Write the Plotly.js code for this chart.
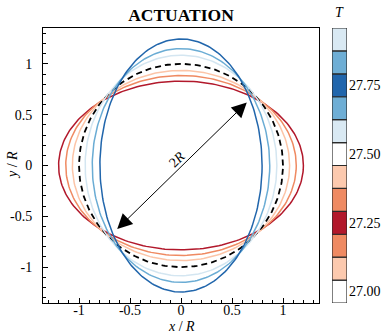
<!DOCTYPE html>
<html>
<head>
<meta charset="utf-8">
<script src="https://cdn.plot.ly/plotly-3.0.1.min.js"></script>
<style>html,body{margin:0;padding:0;background:#fff;}#chart{width:384px;height:333px;}</style>
</head>
<body>
<div id="chart"></div>
<script>
// Shapes at selected times T (semi-axes, in units of R)
const shapeT      = [27.25, 27.167, 27.083, 27.0, 27.583, 27.667, 27.75];
const semiAxisX   = [1.20, 1.13, 1.065, 1.00, 0.94, 0.87, 0.795];
const semiAxisY   = [0.83, 0.885, 0.935, 1.00, 1.085, 1.15, 1.245];
const shapeColors = ['#b2182b', '#ef8a62', '#fcc5a8', '#000000', '#d4e6f1', '#6aacd4', '#2166ac'];
const shapeDash   = ['solid', 'solid', 'solid', 'dash', 'solid', 'solid', 'solid'];

// Discrete colorbar bands (T values at band centres, bottom to top)
const bandT      = [27.0, 27.0833, 27.1667, 27.25, 27.3333, 27.4167, 27.5, 27.5833, 27.6667, 27.75, 27.8333, 27.9167];
const bandColors = ['#ffffff', '#fcc9ae', '#ef8a62', '#b2182b', '#ef8a62', '#fcc9ae', '#ffffff', '#d9e9f3', '#6eaed5', '#2166ac', '#6eaed5', '#d9e9f3'];
const bandTickVals = [27.0, 27.25, 27.5, 27.75];
const bandTickText = ['27.00', '27.25', '27.50', '27.75'];

// Axis tick labels
const axisTickVals = [-1, -0.5, 0, 0.5, 1];
const axisTickText = ['-1', '-0.5', '0', '0.5', '1'];

// Diameter arrow end points
const arrowStart = [-0.64, -0.64];
const arrowEnd   = [0.645, 0.62];

const FONT = 'Liberation Serif, Times New Roman, serif';

const traces = [];
const nPts = 241;
for (let k = 0; k < shapeT.length; k++) {
  const xs = [], ys = [];
  for (let i = 0; i < nPts; i++) {
    const th = 2 * Math.PI * i / (nPts - 1);
    xs.push(semiAxisX[k] * Math.cos(th));
    ys.push(semiAxisY[k] * Math.sin(th));
  }
  traces.push({
    type: 'scatter', mode: 'lines', x: xs, y: ys,
    line: {color: shapeColors[k], width: shapeDash[k] === 'dash' ? 1.8 : 1.5, dash: shapeDash[k] === 'dash' ? '6px,4px' : 'solid'},
    hoverinfo: 'skip', showlegend: false, xaxis: 'x', yaxis: 'y'
  });
}
const bandStep = bandT[1] - bandT[0];
traces.push({
  type: 'bar', x: bandT.map(() => 0), y: bandT.map(() => bandStep),
  base: bandT.map(t => t - bandStep / 2), width: 1,
  marker: {color: bandColors, line: {color: '#2a2a2a', width: 1.2}},
  hoverinfo: 'skip', showlegend: false, xaxis: 'x2', yaxis: 'y2'
});

const W = 384, H = 333;
const mL = 43, mR = 37, mT = 28, mB = 30;
const pw = W - mL - mR, ph = H - mT - mB;
const plotRight = 319, cbLeft = 332, cbRight = 347;
const px2x = p => (p - mL) / pw;          // pixel x -> paper x
const px2y = p => (H - mB - p) / ph;      // pixel y -> paper y

const axisCommon = {
  showline: true, linecolor: '#000', linewidth: 1, mirror: true,
  showgrid: false, zeroline: false,
  ticks: 'inside', ticklen: 5, tickwidth: 1, tickcolor: '#000',
  tickvals: axisTickVals, ticktext: axisTickText,
  minor: {dtick: 0.1, ticks: 'inside', ticklen: 3, tickwidth: 1, tickcolor: '#000'},
  tickfont: {family: FONT, size: 14, color: '#000'},
  range: [-1.353, 1.353]
};

const layout = {
  width: W, height: H,
  margin: {l: mL, r: mR, t: mT, b: mB, pad: 0},
  paper_bgcolor: '#fff', plot_bgcolor: '#fff',
  title: {text: '<b>ACTUATION</b>', font: {family: FONT, size: 17.5, color: '#000'},
          x: 181 / W, xanchor: 'center', xref: 'container', y: 1 - 15 / H, yanchor: 'middle', yref: 'container'},
  xaxis: Object.assign({}, axisCommon, {
    domain: [0, (plotRight - mL) / pw], anchor: 'y',
    ticklabelstandoff: -6
  }),
  yaxis: Object.assign({}, axisCommon, {
    domain: [0, 1], anchor: 'x',
    ticklabelstandoff: 7
  }),
  xaxis2: {
    domain: [px2x(cbLeft), px2x(cbRight)], anchor: 'y2',
    range: [-0.5, 0.5], showticklabels: false, showgrid: false, zeroline: false, showline: false, ticks: ''
  },
  yaxis2: {
    domain: [0, 1], anchor: 'x2', side: 'right',
    range: [bandT[0] - bandStep / 2, bandT[bandT.length - 1] + bandStep / 2],
    tickvals: bandTickVals, ticktext: bandTickText, ticks: '',
    showgrid: false, zeroline: false, showline: false,
    tickfont: {family: FONT, size: 14, color: '#000'}, ticklabelstandoff: 1
  },
  annotations: [
    {x: arrowEnd[0], y: arrowEnd[1], ax: arrowStart[0], ay: arrowStart[1],
     xref: 'x', yref: 'y', axref: 'x', ayref: 'y', text: '', showarrow: true,
     arrowhead: 2, startarrowhead: 2, arrowside: 'end+start', arrowsize: 3, startarrowsize: 3,
     arrowwidth: 1, arrowcolor: '#000', standoff: 0, startstandoff: 0},
    {x: 0, y: 0, xref: 'x', yref: 'y', text: '2<i>R</i>', showarrow: false, textangle: -45,
     xshift: -4, yshift: 6, font: {family: FONT, size: 14, color: '#000'}},
    {x: px2x(339.5), y: px2y(12), xref: 'paper', yref: 'paper', text: '<i>T</i>', showarrow: false,
     xanchor: 'center', yanchor: 'middle', font: {family: FONT, size: 14, color: '#000'}},
    {x: px2x(181), y: px2y(326), xref: 'paper', yref: 'paper', text: '<i>x</i> / <i>R</i>', showarrow: false,
     xanchor: 'center', yanchor: 'middle', font: {family: FONT, size: 14, color: '#000'}},
    {x: px2x(12), y: px2y(165), xref: 'paper', yref: 'paper', text: '<i>y</i> / <i>R</i>', showarrow: false,
     textangle: -90, xanchor: 'center', yanchor: 'middle', font: {family: FONT, size: 14, color: '#000'}}
  ],
  bargap: 0
};

Plotly.newPlot('chart', traces, layout, {staticPlot: true, displayModeBar: false});
</script>
</body>
</html>
